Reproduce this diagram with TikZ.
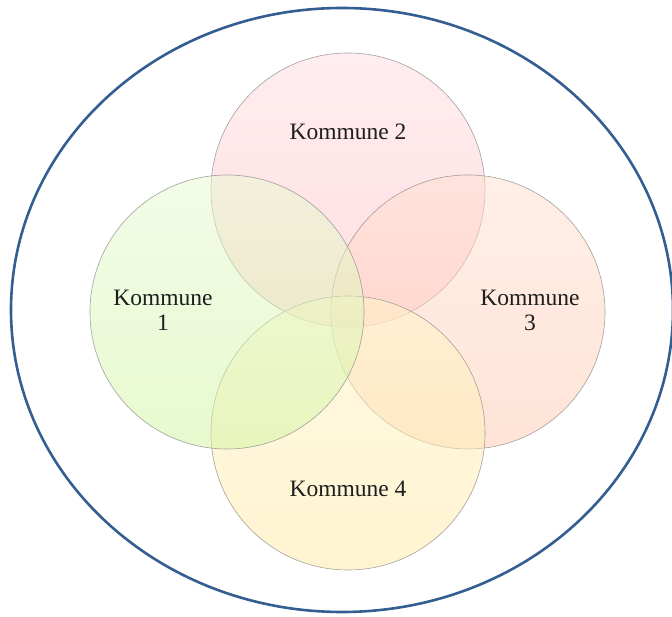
\documentclass[tikz,border=0pt]{standalone}
\usepackage{fontspec}
\usetikzlibrary{shapes.geometric}
\setmainfont{Liberation Serif}
\definecolor{outerblue}{RGB}{52,94,145}
\definecolor{pinkT}{RGB}{255,221,225}\definecolor{pinkB}{RGB}{255,189,195}
\definecolor{greenT}{RGB}{232,250,210}\definecolor{greenB}{RGB}{210,245,160}
\definecolor{peachT}{RGB}{255,225,209}\definecolor{peachB}{RGB}{255,201,175}
\definecolor{yellowT}{RGB}{255,245,201}\definecolor{yellowB}{RGB}{255,235,165}
\definecolor{rimgray}{RGB}{140,140,140}
\definecolor{txt}{RGB}{30,30,30}
\tikzset{
  venn/.style={circle, minimum size=274pt, inner sep=0pt, draw=rimgray, line width=0.6pt, fill opacity=0.5, draw opacity=0.8},
  lbl/.style={font=\fontsize{23.5}{25}\selectfont, text=txt, align=center}
}
\begin{document}
\begin{tikzpicture}[x=1pt,y=1pt]
\useasboundingbox (0,0) rectangle (672,617);
\fill[white] (0,0) rectangle (672,617);
\node[ellipse, draw=outerblue, line width=2.6pt, minimum width=662pt, minimum height=604pt, inner sep=0pt] (outer) at (342,307) {};
\node[venn, top color=pinkT, bottom color=pinkB] (c2) at (348,427) {};
\node[venn, top color=peachT, bottom color=peachB] (c3) at (468,305) {};
\node[venn, top color=yellowT, bottom color=yellowB] (c4) at (348,184) {};
\node[venn, top color=greenT, bottom color=greenB] (c1) at (227,305) {};
\node[lbl] (t2) at (348,485) {Kommune 2};
\node[lbl] (t1) at (163,307) {Kommune\\1};
\node[lbl] (t3) at (530,307) {Kommune\\3};
\node[lbl] (t4) at (348,128) {Kommune 4};
\end{tikzpicture}
\end{document}
